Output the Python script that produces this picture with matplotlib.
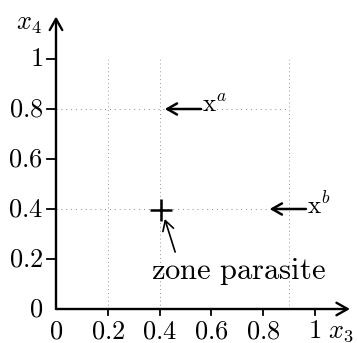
import matplotlib.pyplot as plt

plt.rcParams["mathtext.fontset"] = "cm"
plt.rcParams["font.family"] = "serif"

# values
ticks = [0.0, 0.2, 0.4, 0.6, 0.8, 1.0]
tick_labels = ["0", "0.2", "0.4", "0.6", "0.8", "1"]
grid_x = [0.2, 0.4, 0.9]
grid_y = [0.4, 0.8]
point_names = [r"$\mathrm{x}^{a}$", r"$\mathrm{x}^{b}$"]
point_x = [0.42, 0.825]
point_y = [0.80, 0.40]
parasite = (0.405, 0.395)


def main():
    fig = plt.figure(figsize=(3.58, 3.43), dpi=100)
    ax = fig.add_axes([0, 0, 1, 1])
    ax.set_xlim(-56 / 259, 302 / 259)
    ax.set_ylim(-34 / 250, 309 / 250)
    ax.axis("off")

    # faint dotted guide lines
    for gx in grid_x:
        ax.plot([gx, gx], [0, 1.0], ls=(0, (1, 3)), lw=0.7, color="#999999")
    for gy in grid_y:
        ax.plot([0, 0.9], [gy, gy], ls=(0, (1, 4)), lw=0.7, color="#888888")

    # axes with arrow heads
    arr = dict(arrowstyle="->,head_length=0.8,head_width=0.45", lw=1.7, color="black",
               shrinkA=0, shrinkB=0)
    ax.annotate("", xy=(0, 1.17), xytext=(0, 0), arrowprops=arr)
    ax.annotate("", xy=(1.135, 0), xytext=(0, 0), arrowprops=arr)

    fs = 19
    for t, lab in zip(ticks, tick_labels):
        if t > 0:
            ax.plot([t, t], [0, -0.024], color="black", lw=1.3)
            ax.plot([0, -0.035], [t, t], color="black", lw=1.3)
        ax.text(t, -0.118, "$" + lab + "$", ha="center", va="baseline", fontsize=fs)
        ax.text(-0.05, t, "$" + lab + "$", ha="right", va="center", fontsize=fs)

    ax.text(1.05, -0.09, r"$x_3$", ha="left", va="center", fontsize=19)
    ax.text(-0.105, 1.14, r"$x_4$", ha="center", va="center", fontsize=19)

    # points x^a and x^b with arrows
    head = dict(arrowstyle="->,head_length=0.7,head_width=0.4", lw=1.8, color="black",
                shrinkA=0, shrinkB=0)
    for name, px, py in zip(point_names, point_x, point_y):
        ax.annotate("", xy=(px, py), xytext=(px + 0.14, py), arrowprops=head)
        ax.text(px + 0.145, py + 0.015, name, ha="left", va="center", fontsize=18)

    # parasite zone
    ax.plot(*parasite, marker="+", ms=16, mew=1.8, color="black")
    ax.annotate("", xy=(0.42, 0.36), xytext=(0.46, 0.228),
                arrowprops=dict(arrowstyle="->,head_length=0.7,head_width=0.4", lw=1.2,
                                color="black", shrinkA=0, shrinkB=0))
    ax.text(0.365, 0.15, r"$\mathrm{zone\ parasite}$", ha="left", va="center", fontsize=22)

    fig.savefig("out.png", dpi=100)


if __name__ == "__main__":
    main()
